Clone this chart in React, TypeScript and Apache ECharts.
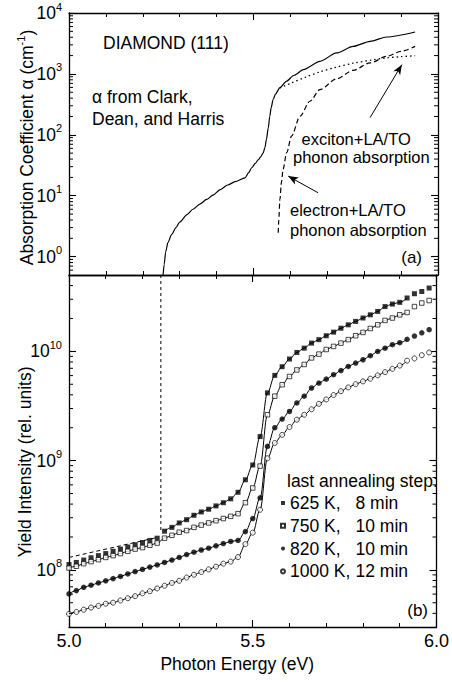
import React, { useEffect, useRef } from "react";
import * as echarts from "echarts";

const FONT = "'Liberation Sans', Arial, Helvetica, sans-serif";

// ---------- Panel (a): absorption coefficient ----------
const clarkEnergy = [5.255, 5.258, 5.262, 5.268, 5.278, 5.29, 5.3, 5.32, 5.336, 5.355, 5.373, 5.39, 5.41, 5.43, 5.45, 5.477, 5.487, 5.495, 5.505, 5.513, 5.52, 5.526, 5.531, 5.535, 5.54, 5.544, 5.548, 5.553, 5.56, 5.571, 5.589, 5.61, 5.635, 5.68, 5.725, 5.77, 5.816, 5.861, 5.938];
const clarkAlpha = [0.5, 0.75, 1.2, 1.7, 2.3, 3.0, 3.7, 4.9, 6.0, 7.3, 8.7, 10.2, 12.6, 15.0, 17.0, 19.7, 24, 28.8, 34, 39, 44, 50, 62, 84, 130, 200, 280, 380, 470, 590, 757, 950, 1175, 1610, 2210, 2830, 3420, 4040, 4880];

const excitonEnergy = [5.571, 5.6, 5.64, 5.68, 5.72, 5.77, 5.82, 5.86, 5.9, 5.938];
const excitonAlpha = [590, 700, 880, 1080, 1270, 1500, 1690, 1830, 1920, 1990];

const electronEnergy = [5.567, 5.5685, 5.5715, 5.576, 5.58, 5.59, 5.603, 5.626, 5.653, 5.68, 5.725, 5.77, 5.816, 5.861, 5.9, 5.938];
const electronAlpha = [2.47, 4.0, 8.7, 17, 27, 51, 95, 202, 356, 553, 828, 1146, 1514, 1945, 2350, 2830];

const arrowExciton = [[5.816, 192], [5.902, 1420]];
const arrowElectron = [[5.675, 11.2], [5.594, 21]];

// ---------- Panel (b): yield intensity ----------
const photonEnergy = [5.0, 5.02, 5.04, 5.06, 5.08, 5.1, 5.12, 5.14, 5.16, 5.18, 5.2, 5.22, 5.24, 5.26, 5.28, 5.3, 5.32, 5.34, 5.36, 5.38, 5.4, 5.42, 5.44, 5.46, 5.48, 5.5, 5.52, 5.54, 5.56, 5.58, 5.6, 5.62, 5.64, 5.66, 5.68, 5.7, 5.72, 5.74, 5.76, 5.78, 5.8, 5.82, 5.84, 5.86, 5.88, 5.9, 5.92, 5.94, 5.96, 5.98];

const yield625 = [1.12e8, 1.17e8, 1.23e8, 1.29e8, 1.35e8, 1.41e8, 1.48e8, 1.55e8, 1.62e8, 1.7e8, 1.78e8, 1.86e8, 1.95e8, 2.26e8, 2.45e8, 2.69e8, 2.88e8, 3.16e8, 3.39e8, 3.59e8, 3.85e8, 4.12e8, 4.47e8, 5.13e8, 6.68e8, 9.12e8, 1.66e9, 4.17e9, 6.03e9, 7.24e9, 8.51e9, 9.77e9, 1.07e10, 1.19e10, 1.28e10, 1.39e10, 1.5e10, 1.63e10, 1.75e10, 1.88e10, 2.02e10, 2.16e10, 2.32e10, 2.57e10, 2.71e10, 2.81e10, 3.08e10, 3.37e10, 3.53e10, 3.8e10];
const yield750 = [1.04e8, 1.08e8, 1.14e8, 1.19e8, 1.24e8, 1.3e8, 1.35e8, 1.41e8, 1.48e8, 1.55e8, 1.6e8, 1.68e8, 1.76e8, 1.95e8, 2.07e8, 2.21e8, 2.29e8, 2.45e8, 2.57e8, 2.69e8, 2.82e8, 2.95e8, 3.09e8, 3.27e8, 4.12e8, 5.62e8, 8.91e8, 2.63e9, 3.89e9, 4.95e9, 5.89e9, 6.76e9, 7.59e9, 8.71e9, 9.44e9, 1.04e10, 1.11e10, 1.19e10, 1.28e10, 1.39e10, 1.49e10, 1.62e10, 1.75e10, 1.92e10, 2.02e10, 2.16e10, 2.27e10, 2.57e10, 2.77e10, 2.92e10];
const yield820 = [6.03e7, 6.46e7, 6.92e7, 7.24e7, 7.59e7, 7.94e7, 8.32e7, 8.71e7, 9.18e7, 9.66e7, 1.01e8, 1.06e8, 1.11e8, 1.17e8, 1.23e8, 1.3e8, 1.38e8, 1.45e8, 1.52e8, 1.58e8, 1.66e8, 1.74e8, 1.82e8, 1.86e8, 2.24e8, 2.95e8, 4.57e8, 1.35e9, 2.0e9, 2.4e9, 2.82e9, 3.37e9, 3.89e9, 4.62e9, 5.13e9, 5.57e9, 6.11e9, 6.68e9, 7.28e9, 7.82e9, 8.38e9, 9.12e9, 9.98e9, 1.07e10, 1.15e10, 1.2e10, 1.29e10, 1.38e10, 1.48e10, 1.58e10];
const yield1000 = [3.95e7, 4.12e7, 4.32e7, 4.52e7, 4.68e7, 4.9e7, 5.01e7, 5.25e7, 5.5e7, 5.75e7, 6.1e7, 6.38e7, 6.76e7, 7.16e7, 7.59e7, 7.94e7, 8.51e7, 9.02e7, 9.55e7, 1.01e8, 1.07e8, 1.14e8, 1.19e8, 1.31e8, 1.72e8, 2.19e8, 3.55e8, 1.05e9, 1.45e9, 1.72e9, 2.03e9, 2.37e9, 2.63e9, 2.95e9, 3.31e9, 3.63e9, 3.98e9, 4.32e9, 4.68e9, 5.01e9, 5.31e9, 5.62e9, 6.03e9, 6.46e9, 6.92e9, 7.41e9, 8.22e9, 8.61e9, 9.23e9, 9.77e9];

const fit625LowEnergy = [5.0, 5.24];
const fit625LowValue = [1.3e8, 1.98e8];
const fitStartHigh = 5.255;
const fitEnd = 5.925;

const edgeEnergy = [5.25, 5.25];
const edgeValue = [5.0e10, 2.26e8];

const seriesNames = ["625 K, 8 min", "750 K, 10 min", "820 K, 10 min", "1000 K, 12 min"];
const xTickLabels = ["5.0", "5.5", "6.0"];

const zip = (xs: number[], ys: number[]) => xs.map((x, i) => [x, ys[i]]);

function minorLogTicks(min: number, max: number): number[] {
  const out: number[] = [];
  for (let e = Math.floor(Math.log10(min)); e <= Math.ceil(Math.log10(max)); e++) {
    for (let k = 2; k <= 9; k++) {
      const v = k * Math.pow(10, e);
      if (v > min && v < max) out.push(v);
    }
  }
  return out;
}

const BLACK = "#000";

export default function App() {
  const ref = useRef<HTMLDivElement>(null);

  useEffect(() => {
    if (!ref.current) return;
    const chart = echarts.init(ref.current, undefined, { renderer: "svg" });

    const axisLineStyle = { color: BLACK, width: 1.3 };
    const powRich = {
      b: { fontSize: 17.5, fontFamily: FONT, color: BLACK, lineHeight: 24 },
      s: { fontSize: 11, fontFamily: FONT, color: BLACK, verticalAlign: "top", lineHeight: 12 },
    };
    const powLabel = (v: number) => `{b|10}{s|${Math.round(Math.log10(v))}}`;

    const xAxis = (gridIndex: number, position: string, labels: boolean) => ({
      type: "value",
      gridIndex,
      position,
      min: 5,
      max: 6,
      interval: 0.5,
      axisLine: { show: true, onZero: false, lineStyle: axisLineStyle },
      axisTick: { show: true, inside: true, length: 7, lineStyle: { color: BLACK, width: 1.1 } },
      minorTick: { show: true, splitNumber: 5, length: 4, lineStyle: { color: BLACK, width: 1 } },
      splitLine: { show: false },
      axisLabel: labels
        ? {
            show: true,
            margin: 5,
            fontSize: 18,
            fontFamily: FONT,
            color: BLACK,
            formatter: (v: number) => xTickLabels.find((t) => Math.abs(parseFloat(t) - v) < 1e-6) || "",
          }
        : { show: false },
      ...(labels
        ? {
            name: "Photon Energy (eV)",
            nameLocation: "middle",
            nameGap: 26,
            nameTextStyle: { fontSize: 17.5, fontFamily: FONT, color: BLACK, padding: [0, 31, 0, 0] },
          }
        : {}),
    });

    const yAxis = (gridIndex: number, position: string, min: number, max: number, labels: boolean, showMax: boolean) => ({
      type: "log",
      logBase: 10,
      gridIndex,
      position,
      min,
      max,
      axisLine: { show: true, onZero: false, lineStyle: axisLineStyle },
      axisTick: { show: true, inside: true, length: 7, lineStyle: { color: BLACK, width: 1.1 } },
      minorTick: { show: false },
      splitLine: { show: false },
      axisLabel: labels
        ? { show: true, margin: 7, showMinLabel: false, showMaxLabel: showMax, formatter: powLabel, rich: powRich }
        : { show: false },
    });

    const minorTickSeries = (xi: number, yi: number, vals: number[]) => ({
      type: "custom",
      xAxisIndex: xi,
      yAxisIndex: yi,
      silent: true,
      z: 5,
      data: vals.map((v) => [5, v]),
      renderItem: (_p: any, api: any) => {
        const v = api.value(1);
        const l = api.coord([5, v]);
        const r = api.coord([6, v]);
        const st = { stroke: BLACK, lineWidth: 1 };
        return {
          type: "group",
          children: [
            { type: "line", shape: { x1: l[0], y1: l[1], x2: l[0] + 4, y2: l[1] }, style: st },
            { type: "line", shape: { x1: r[0] - 4, y1: r[1], x2: r[0], y2: r[1] }, style: st },
          ],
        };
      },
    });

    const yieldSets = [yield625, yield750, yield820, yield1000];
    const fitSeries = yieldSets.map((ys, i) => ({
      type: "line",
      xAxisIndex: 2,
      yAxisIndex: 2,
      showSymbol: false,
      silent: true,
      smooth: 0.35,
      smoothMonotone: "x",
      z: 2,
      lineStyle: { color: BLACK, width: 1 },
      data: zip(photonEnergy, ys).filter((p) => p[0] <= fitEnd && (i !== 0 || p[0] >= fitStartHigh)),
    }));

    const markerStyles = [
      { symbol: "rect", size: 5, itemStyle: { color: BLACK } },
      { symbol: "rect", size: 4.5, itemStyle: { color: "#fff", borderColor: BLACK, borderWidth: 0.9 } },
      { symbol: "circle", size: 5.5, itemStyle: { color: BLACK } },
      { symbol: "circle", size: 5, itemStyle: { color: "#fff", borderColor: BLACK, borderWidth: 0.9 } },
    ];
    const scatterSeries = yieldSets.map((ys, i) => ({
      type: "scatter",
      name: seriesNames[i],
      xAxisIndex: 2,
      yAxisIndex: 2,
      symbol: markerStyles[i].symbol,
      symbolSize: markerStyles[i].size,
      itemStyle: markerStyles[i].itemStyle,
      z: 4,
      data: zip(photonEnergy, ys),
    }));

    const textEl = (text: string, x: number, y: number, size: number, align = "left") => ({
      type: "text",
      x,
      y,
      silent: true,
      style: { text, fill: BLACK, fontSize: size, fontFamily: FONT, align, verticalAlign: "middle" },
    });

    const titleRich = {
      a: { fontSize: 17.5, fontFamily: FONT, color: BLACK, lineHeight: 22 },
      s: { fontSize: 11, fontFamily: FONT, color: BLACK, verticalAlign: "top", lineHeight: 12 },
    };

    const option: any = {
      animation: false,
      backgroundColor: "#fff",
      grid: [
        { left: 69, top: 13, width: 369, height: 262 },
        { left: 69, top: 275, width: 369, height: 352 },
      ],
      xAxis: [xAxis(0, "bottom", false), xAxis(0, "top", false), xAxis(1, "bottom", true), xAxis(1, "top", false)],
      yAxis: [
        yAxis(0, "left", 0.5, 10000, true, true),
        yAxis(0, "right", 0.5, 10000, false, false),
        yAxis(1, "left", 3e7, 5e10, true, false),
        yAxis(1, "right", 3e7, 5e10, false, false),
      ],
      legend: {
        data: seriesNames,
        orient: "vertical",
        left: 280,
        top: 494,
        padding: 0,
        itemWidth: 4,
        itemHeight: 4,
        itemGap: 4.8,
        itemTextGap: 20,
        selectedMode: false,
        textStyle: {
          fontSize: 17.5,
          fontFamily: FONT,
          color: BLACK,
          rich: {
            k: { width: 65.5, fontSize: 17.5, fontFamily: FONT, color: BLACK, lineHeight: 17 },
            m: { fontSize: 17.5, fontFamily: FONT, color: BLACK, lineHeight: 17 },
          },
        },
        formatter: (name: string) => {
          const parts = name.split(", ");
          return `{k|${parts[0]},}{m|${parts[1]}}`;
        },
      },
      graphic: [
        {
          type: "text",
          x: 26.5,
          y: 147.5,
          rotation: Math.PI / 2,
          silent: true,
          style: {
            text: "{a|Absorption Coefficient α (cm}{s|-1}{a|)}",
            rich: titleRich,
            fill: BLACK,
            fontSize: 17.5,
            fontFamily: FONT,
            align: "center",
            verticalAlign: "middle",
          },
        },
        {
          type: "text",
          x: 25,
          y: 462,
          rotation: Math.PI / 2,
          silent: true,
          style: {
            text: "Yield Intensity (rel. units)",
            fill: BLACK,
            fontSize: 17.5,
            fontFamily: FONT,
            align: "center",
            verticalAlign: "middle",
          },
        },
        textEl("DIAMOND (111)", 103, 43, 17.5),
        textEl("α from Clark,", 92, 97, 17.5),
        textEl("Dean, and Harris", 92, 118.5, 17.5),
        textEl("exciton+LA/TO", 301.5, 138.5, 16.5),
        textEl("phonon absorption", 293, 157, 16.5),
        textEl("electron+LA/TO", 290, 210, 16.5),
        textEl("phonon absorption", 290, 230, 16.5),
        textEl("(a)", 422, 257, 17, "right"),
        textEl("(b)", 428, 610, 17, "right"),
        textEl("last annealing step:", 287, 481, 17.5),
      ],
      series: [
        {
          type: "line",
          xAxisIndex: 0,
          yAxisIndex: 0,
          showSymbol: false,
          silent: true,
          smooth: 0.25,
          smoothMonotone: "x",
          lineStyle: { color: BLACK, width: 1.2 },
          data: zip(clarkEnergy, clarkAlpha),
        },
        {
          type: "line",
          xAxisIndex: 0,
          yAxisIndex: 0,
          showSymbol: false,
          silent: true,
          smooth: 0.3,
          lineStyle: { color: BLACK, width: 1.3, type: [1.5, 3] },
          data: zip(excitonEnergy, excitonAlpha),
        },
        {
          type: "line",
          xAxisIndex: 0,
          yAxisIndex: 0,
          showSymbol: false,
          silent: true,
          smooth: 0.3,
          smoothMonotone: "x",
          lineStyle: { color: BLACK, width: 1.2, type: [5, 3] },
          data: zip(electronEnergy, electronAlpha),
          markLine: {
            silent: true,
            animation: false,
            symbol: ["none", "arrow"],
            symbolSize: [6, 10],
            label: { show: false },
            lineStyle: { color: BLACK, width: 1, type: "solid" },
            data: [
              [{ coord: arrowExciton[0] }, { coord: arrowExciton[1] }],
              [{ coord: arrowElectron[0] }, { coord: arrowElectron[1] }],
            ],
          },
        },
        minorTickSeries(0, 0, minorLogTicks(0.5, 10000)),
        {
          type: "line",
          xAxisIndex: 2,
          yAxisIndex: 2,
          showSymbol: false,
          silent: true,
          lineStyle: { color: BLACK, width: 1, type: [3, 3] },
          data: zip(edgeEnergy, edgeValue),
        },
        {
          type: "line",
          xAxisIndex: 2,
          yAxisIndex: 2,
          showSymbol: false,
          silent: true,
          lineStyle: { color: BLACK, width: 1, type: [4, 3] },
          data: zip(fit625LowEnergy, fit625LowValue),
        },
        ...fitSeries,
        ...scatterSeries,
        minorTickSeries(2, 2, minorLogTicks(3e7, 5e10)),
      ],
    };

    chart.setOption(option);
    return () => chart.dispose();
  }, []);

  return (
    <div
      ref={ref}
      style={{ position: "fixed", left: 0, top: 0, width: 452, height: 683, background: "#fff" }}
    />
  );
}
